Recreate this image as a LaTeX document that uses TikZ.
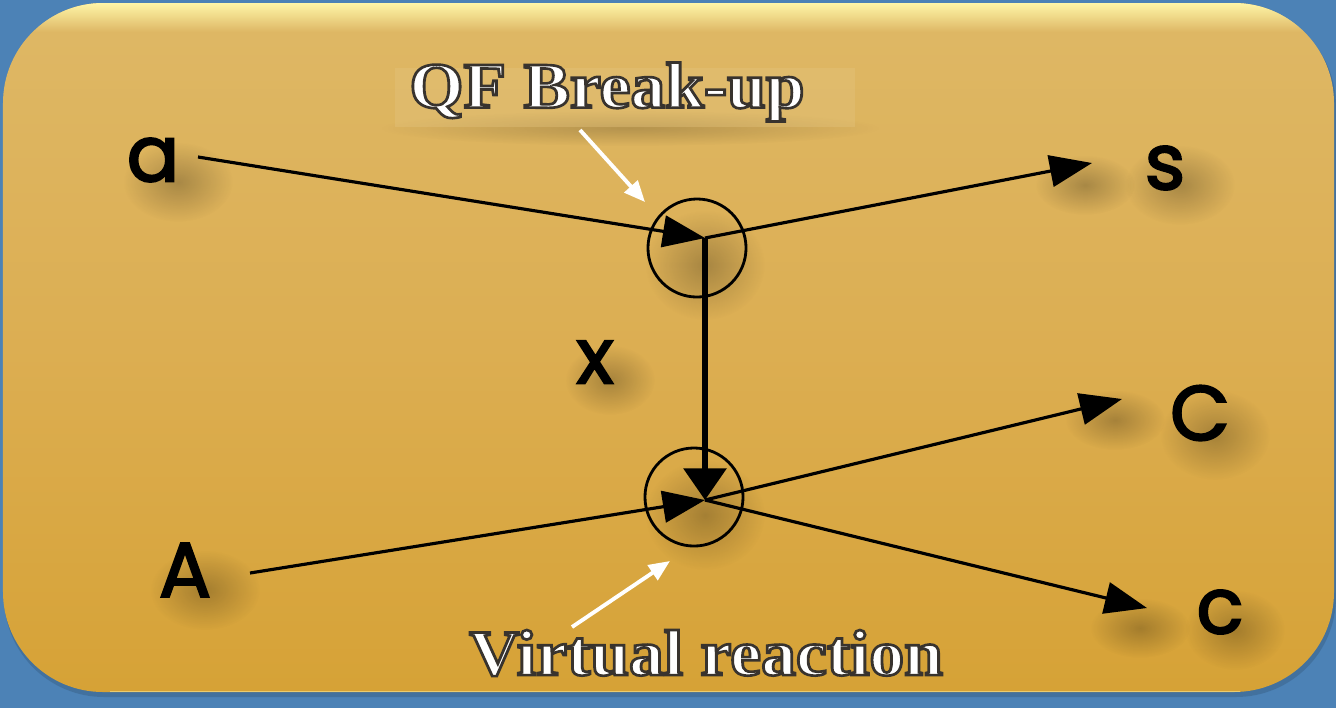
\documentclass[tikz,border=0pt]{standalone}
\usepackage{fontspec}
\setmainfont{Liberation Serif}
\newfontfamily\hand{Poppins}
\usetikzlibrary{arrows.meta,fadings}

\definecolor{slideblue}{RGB}{76,130,182}
\definecolor{goldtop}{RGB}{222,184,102}
\definecolor{goldmid}{RGB}{220,174,82}
\definecolor{goldbot}{RGB}{214,162,54}
\definecolor{goldshine}{RGB}{255,246,168}

% text drawn filled and stroked at once (PDF text render mode 2)
\newcommand\strokedtext[3]{\special{pdf:code q #1 RG #2 w 2 Tr}#3\special{pdf:code Q}}

\tikzfading[name=softspot, inner color=transparent!0, outer color=transparent!100]
\tikzfading[name=shinefade, top color=transparent!0, bottom color=transparent!100]

\tikzset{
  letter/.style={font=\hand\fontsize{22}{24}\selectfont, text=black, inner sep=1pt},
  particle/.style={line width=0.9pt, draw=black, -{Triangle[length=12pt,width=9pt]}},
  exchange/.style={line width=1.6pt, draw=black, -{Triangle[length=9pt,width=12pt]}},
  vertexring/.style={circle, draw=black, line width=0.8pt, minimum size=0.98cm, inner sep=0pt},
  pointer/.style={line width=1.1pt, draw=white, -{Triangle[length=6pt,width=5pt]}},
  caption/.style={font=\bfseries\fontsize{18.5}{20}\selectfont, text=white, inner sep=0pt},
  blob/.style={fill=black, opacity=0.24, path fading=softspot}
}

\begin{document}
\begin{tikzpicture}[x=0.01cm,y=-0.01cm]
\useasboundingbox (0,0) rectangle (1336,708);

% slide background and the rounded gold panel
\fill[slideblue] (0,0) rectangle (1336,708);
\fill[slideblue!75!black, opacity=0.5, rounded corners=1cm] (4,6) rectangle (1336,697);
\shade[top color=goldtop, bottom color=goldbot, middle color=goldmid, rounded corners=1cm]
  (3,3) rectangle (1334,692);
% glossy band along the top edge
\begin{scope}
  \clip[rounded corners=1cm] (3,3) rectangle (1334,692);
  \fill[goldshine, path fading=shinefade] (3,3) rectangle (1334,32);
\end{scope}
\draw[goldshine, opacity=0.5, line width=0.5pt] (110,691.5) -- (1240,691.5);

% soft drop shadows under the hand-drawn marks
\foreach \px/\py/\rx/\ry in {178/182/55/40, 1180/185/55/40, 610/380/45/35, 1215/435/55/45,
  205/590/55/40, 1235/630/50/40, 1085/185/50/30, 1115/420/50/30, 1140/628/50/30,
  705/265/60/55, 705/515/60/55}
  \fill[blob] (\px,\py) ellipse ({\rx} and {\ry});

% backing strip behind the upper caption
\fill[black, opacity=0.18, path fading=softspot] (630,128) ellipse (250 and 18);
\fill[goldtop!85!white, opacity=0.4] (395,68) rectangle (855,127);

% particle labels
\node[letter] (a) at (153,160) {\strokedtext{0 0 0}{0.6}{a}};
\node[letter] (s) at (1165,168) {\strokedtext{0 0 0}{0.6}{s}};
\node[letter] (x) at (595,362) {\strokedtext{0 0 0}{0.6}{x}};
\node[letter] (C) at (1200,413) {\strokedtext{0 0 0}{0.6}{C}};
\node[letter] (A) at (185,570) {\strokedtext{0 0 0}{0.6}{A}};
\node[letter] (c) at (1220,612) {\strokedtext{0 0 0}{0.6}{c}};

% vertices and free line ends
\coordinate (v1) at (705,238);
\coordinate (v2) at (705,500);
\coordinate (aStart) at (198,157);
\coordinate (AStart) at (250,573);
\coordinate (sTip) at (1092,163);
\coordinate (CTip) at (1122,399);
\coordinate (cTip) at (1147,608);

% vertex rings
\node[vertexring] (ring1) at (697,248) {};
\node[vertexring] (ring2) at (694,497) {};

% particle lines
\draw[particle] (aStart) -- (v1);
\draw[particle] (v1) -- (sTip);
\draw[exchange] (v1) -- (v2);
\draw[particle] (AStart) -- (v2);
\draw[particle] (v2) -- (CTip);
\draw[particle] (v2) -- (cTip);

% captions: white bold serif with a thin dark outline
\node[caption] (qf) at (607,92) {\scalebox{1.07}[1]{\strokedtext{0.22 0.2 0.18}{0.75}{QF Break-up}}};
\node[caption] (vr) at (706,653) {\scalebox{1.07}[1]{\strokedtext{0.22 0.2 0.18}{0.75}{Virtual reaction}}};

% white pointers from captions to the rings
\coordinate (qfFoot) at (580,130);
\coordinate (vrFoot) at (572,627);
\draw[pointer] (qfFoot) -- (645,202);
\draw[pointer] (vrFoot) -- (670,561);
\end{tikzpicture}
\end{document}
